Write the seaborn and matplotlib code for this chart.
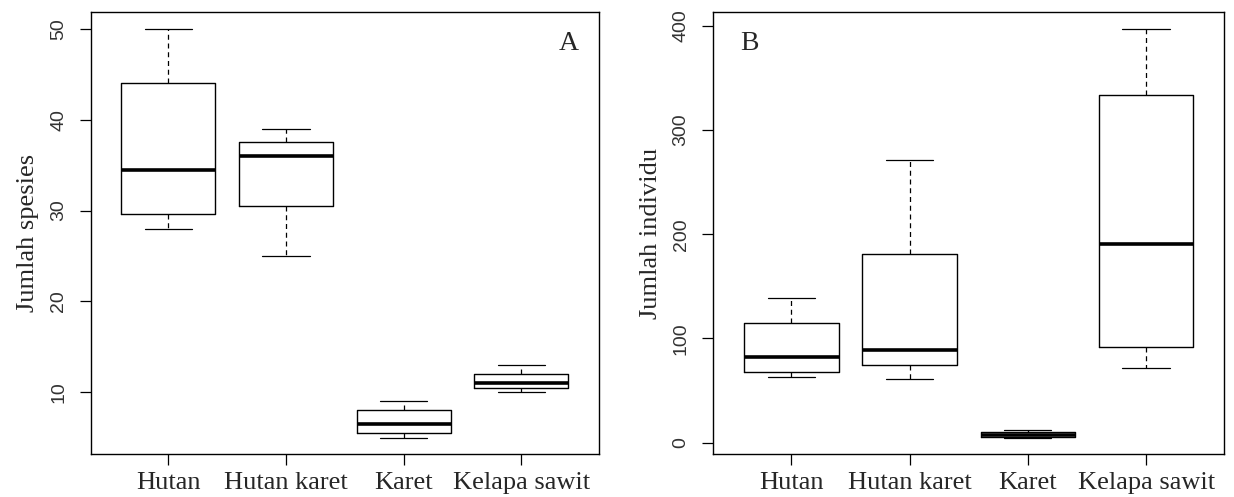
import pandas as pd
import seaborn as sns
import matplotlib.pyplot as plt

# categories (habitat types)
habitats = ['Hutan', 'Hutan karet', 'Karet', 'Kelapa sawit']

# panel A: species counts, five-number summary per habitat
spesies_min = [28, 25, 5, 10]
spesies_q1 = [29.6, 30.5, 5.5, 10.5]
spesies_med = [34.5, 36, 6.5, 11]
spesies_q3 = [44, 37.5, 8, 12]
spesies_max = [50, 39, 9, 13]

# panel B: individual counts, five-number summary per habitat
individu_min = [63, 61, 4, 72]
individu_q1 = [68, 75, 5, 92]
individu_med = [82, 89, 7, 191]
individu_q3 = [115, 181, 10, 334]
individu_max = [139, 271, 12, 397]

spesies_ticks = [10, 20, 30, 40, 50]
individu_ticks = [0, 100, 200, 300, 400]


def long_table(*stats):
    rows = []
    for i, h in enumerate(habitats):
        for s in stats:
            rows.append({'habitat': h, 'value': s[i]})
    return pd.DataFrame(rows)


df_a = long_table(spesies_min, spesies_q1, spesies_med, spesies_q3, spesies_max)
df_b = long_table(individu_min, individu_q1, individu_med, individu_q3, individu_max)

sns.set_style('white')
serif = ['Liberation Serif', 'DejaVu Serif']
sans = ['Liberation Sans', 'DejaVu Sans']

fig = plt.figure(figsize=(12.34, 4.97), dpi=100)
ax_a = fig.add_axes([0.0735, 0.0865, 0.4119, 0.8885])
ax_b = fig.add_axes([0.578, 0.0865, 0.414, 0.8885])


def draw(ax, df, ticks, ylim, ylabel, letter, letter_x):
    sns.boxplot(data=df, x='habitat', y='value', ax=ax, order=habitats,
                color='black', fill=False, width=0.8, whis=(0, 100),
                linewidth=1.0,
                medianprops={'linewidth': 2.6, 'color': 'black'},
                whiskerprops={'linestyle': (0, (4, 3)), 'linewidth': 0.9},
                capprops={'linewidth': 0.9})
    ax.set_xlim(-0.66, 3.66)
    ax.set_ylim(*ylim)
    ax.set_yticks(ticks)
    ax.set_yticklabels([str(t) for t in ticks], rotation=90, va='center',
                       family=sans, fontsize=14, color='#333333')
    ax.set_xticks(range(len(habitats)))
    ax.set_xticklabels(habitats, family=serif, fontsize=19)
    ax.tick_params(axis='both', direction='out', length=8, width=0.9,
                   color='black', left=True, bottom=True)
    ax.tick_params(axis='x', pad=5)
    ax.tick_params(axis='y', pad=9)
    ax.set_xlabel('')
    ax.set_ylabel(ylabel, family=serif, fontsize=19, labelpad=8)
    for sp in ax.spines.values():
        sp.set_visible(True)
        sp.set_color('black')
        sp.set_linewidth(1.0)
    ax.text(letter_x, 0.93, letter, transform=ax.transAxes, family=serif,
            fontsize=20, ha='center', va='center')


draw(ax_a, df_a, spesies_ticks, (3.2, 51.8), 'Jumlah spesies', 'A', 0.94)
draw(ax_b, df_b, individu_ticks, (-10.9, 413), 'Jumlah individu', 'B', 0.07)

plt.savefig('out.png', dpi=100)
